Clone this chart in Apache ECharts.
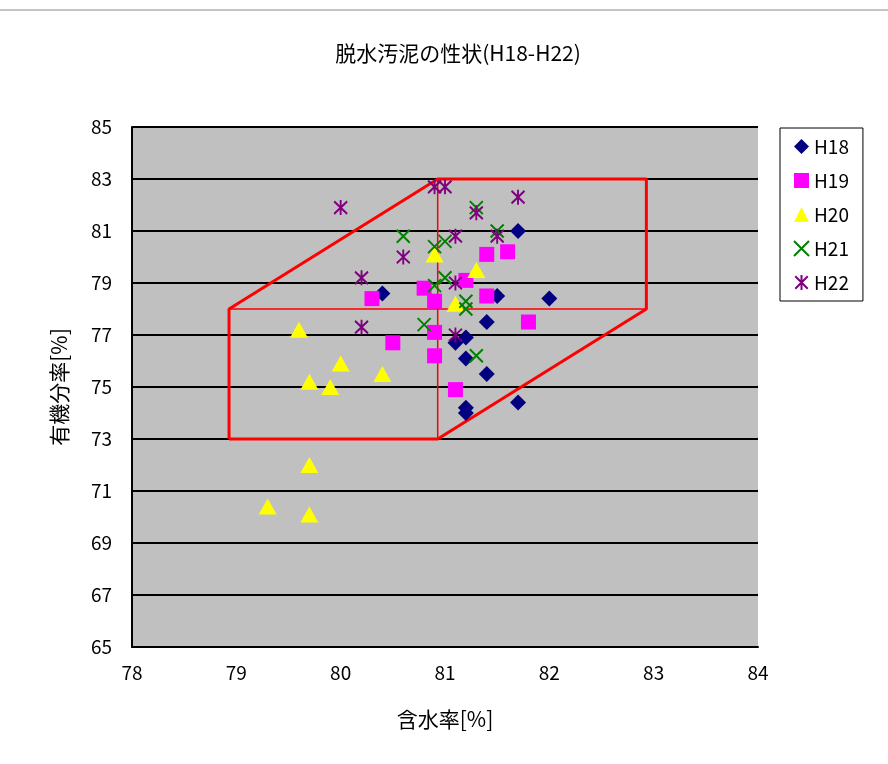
<!DOCTYPE html>
<html><head><meta charset="utf-8">
<script src="https://cdn.jsdelivr.net/npm/echarts@6/dist/echarts.min.js"></script>
<style>html,body{margin:0;padding:0;background:#fff}#c{width:888px;height:764px}</style>
</head><body><div id="c"></div>
<script>
const titleText = '脱水汚泥の性状(H18-H22)';
const xName = '含水率[%]';
const yName = '有機分率[%]';
const seriesNames = ['H18','H19','H20','H21','H22'];
const H18 = [[80.4,78.6],[81.7,81.0],[81.5,78.5],[82.0,78.4],[81.4,77.5],[81.1,76.7],[81.2,76.9],[81.2,76.1],[81.4,75.5],[81.7,74.4],[81.2,74.2],[81.2,74.0]];
const H19 = [[81.4,80.1],[81.6,80.2],[81.2,79.1],[80.8,78.8],[80.3,78.4],[80.9,78.3],[81.4,78.5],[81.8,77.5],[80.9,77.1],[80.5,76.7],[80.9,76.2],[81.1,74.9]];
const H20 = [[79.6,77.2],[80.0,75.9],[79.7,75.2],[79.9,75.0],[80.4,75.5],[79.7,72.0],[79.3,70.4],[79.7,70.1],[80.9,80.1],[81.3,79.5],[81.1,78.2]];
const H21 = [[80.6,80.8],[80.9,80.4],[81.0,80.6],[81.3,81.9],[81.5,81.0],[80.9,78.9],[81.0,79.2],[80.8,77.4],[81.2,78.3],[81.2,78.0],[81.3,76.2]];
const H22 = [[80.9,82.7],[81.0,82.7],[80.0,81.9],[80.6,80.0],[80.2,79.2],[81.1,80.8],[81.5,80.8],[81.3,81.7],[81.7,82.3],[81.1,79.0],[80.2,77.3],[81.1,77.0]];
const boxOutline = [[78.93,73],[80.93,73],[82.93,78],[82.93,83],[80.93,83],[78.93,78],[78.93,73]];
const boxHLine = [[78.93,78],[82.93,78]];
const boxVLine = [[80.93,73],[80.93,83]];

const font = '"Noto Sans CJK JP", sans-serif';
const chart = echarts.init(document.getElementById('c'));
const lineSeries = (data, w) => ({type:'line', data, symbol:'none', silent:true, z:1,
  lineStyle:{color:'#ff0000', width:w}, animation:false});
const xPath = 'path://M0,0L10,10M10,0L0,10';
const starPath = 'path://M0,0L10,10M10,0L0,10M5,-1L5,11';
chart.setOption({
  animation:false,
  backgroundColor:'#fff',
  title:{text:titleText, left:453, top:38, textAlign:'center',
    textStyle:{fontFamily:font, fontSize:21, fontWeight:'normal', color:'#000'}},
  graphic:[{type:'line', shape:{x1:0,y1:10,x2:888,y2:10}, style:{stroke:'#888', lineWidth:1}}],
  legend:{orient:'vertical', left:780, top:128, itemGap:15, itemWidth:15, itemHeight:15,
    padding:[9,14,9,13], borderColor:'#000', borderWidth:1, backgroundColor:'#fff',
    data:seriesNames, textStyle:{fontFamily:font, fontSize:19, color:'#000'}},
  grid:{left:132, top:127, width:626, height:520, show:true, backgroundColor:'#c0c0c0', borderWidth:0},
  xAxis:{type:'value', min:78, max:84, interval:1, name:xName, nameLocation:'middle', nameGap:62,
    nameTextStyle:{fontFamily:font, fontSize:21, color:'#000'},
    axisLine:{lineStyle:{color:'#000', width:2}}, axisTick:{show:false},
    splitLine:{show:false},
    axisLabel:{fontFamily:font, fontSize:19, color:'#000', margin:16}},
  yAxis:{type:'value', min:65, max:85, interval:2, name:yName, nameLocation:'middle', nameGap:62, nameRotate:90,
    nameTextStyle:{fontFamily:font, fontSize:21, color:'#000'},
    axisLine:{show:true, lineStyle:{color:'#000', width:2}}, axisTick:{show:false},
    splitLine:{show:true, lineStyle:{color:'#000', width:2}},
    axisLabel:{fontFamily:font, fontSize:19, color:'#000', margin:20}},
  series:[
    lineSeries(boxOutline, 3),
    lineSeries(boxHLine, 1.5),
    lineSeries(boxVLine, 1.5),
    {name:'H18', type:'scatter', data:H18, symbol:'diamond', symbolSize:16, z:3, itemStyle:{color:'#000080', opacity:1}},
    {name:'H19', type:'scatter', data:H19, symbol:'rect', symbolSize:15, z:3, itemStyle:{color:'#ff00ff', opacity:1}},
    {name:'H20', type:'scatter', data:H20, symbol:'triangle', symbolSize:[18,16], z:3, itemStyle:{color:'#ffff00', opacity:1}},
    {name:'H21', type:'scatter', data:H21, symbol:xPath, symbolSize:13, z:3,
      itemStyle:{color:'rgba(0,0,0,0)', borderColor:'#008000', borderWidth:2, opacity:1}},
    {name:'H22', type:'scatter', data:H22, symbol:starPath, symbolSize:[13,15], z:3,
      itemStyle:{color:'rgba(0,0,0,0)', borderColor:'#800080', borderWidth:2, opacity:1}}
  ]
});
</script></body></html>
